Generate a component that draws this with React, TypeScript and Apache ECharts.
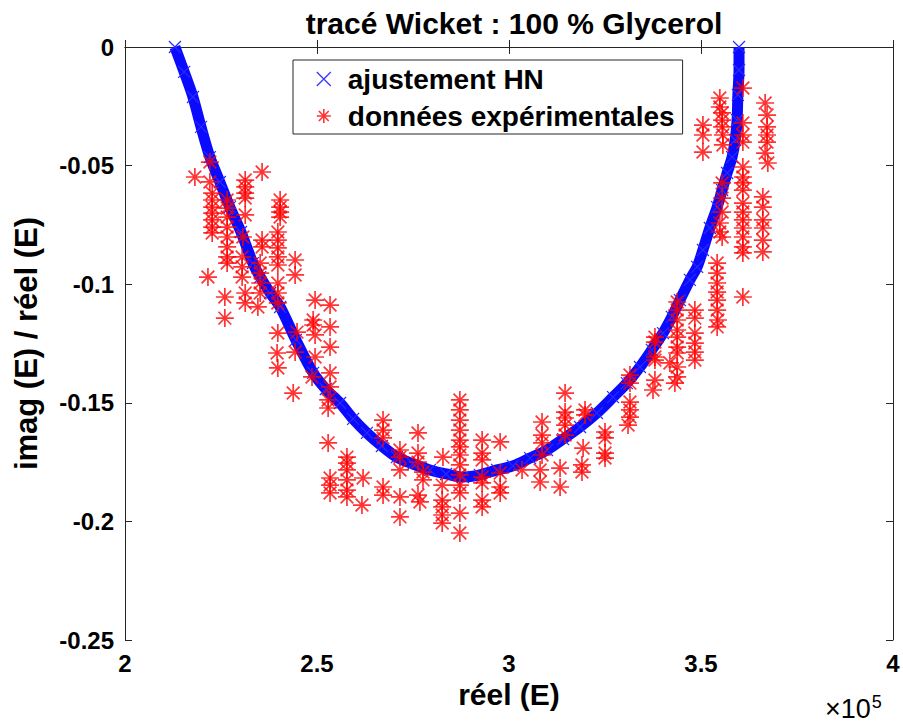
import React, { useEffect, useRef } from "react";
import * as echarts from "echarts";

// réel(E) in units of 1e5, imag(E)/réel(E)
const xTicks = [2, 2.5, 3, 3.5, 4];
const yTicks = [-0.25, -0.2, -0.15, -0.1, -0.05, 0];

const ajustementHN: [number, number][] = [
  [2.13, 0], [2.154, -0.0105], [2.177, -0.0211], [2.198, -0.0337], [2.221, -0.0464],
  [2.247, -0.0569], [2.273, -0.0675], [2.302, -0.078], [2.333, -0.0911], [2.352, -0.097],
  [2.378, -0.1037], [2.404, -0.1096], [2.445, -0.1235], [2.49, -0.1374], [2.523, -0.1442],
  [2.56, -0.1501], [2.594, -0.1568], [2.63, -0.1627], [2.669, -0.1682], [2.708, -0.1729],
  [2.75, -0.1758], [2.794, -0.1783], [2.836, -0.18], [2.88, -0.1813], [2.924, -0.1804],
  [2.969, -0.1783], [3.01, -0.1766], [3.055, -0.1733], [3.099, -0.1699], [3.141, -0.1653],
  [3.185, -0.1602], [3.229, -0.1543], [3.271, -0.1476], [3.307, -0.1417], [3.341, -0.1349],
  [3.372, -0.1277], [3.401, -0.1206], [3.424, -0.1138], [3.445, -0.1067], [3.471, -0.0982],
  [3.49, -0.0927], [3.505, -0.0856], [3.523, -0.0763], [3.542, -0.0675], [3.555, -0.0603],
  [3.568, -0.0531], [3.581, -0.0464], [3.589, -0.0392], [3.594, -0.0308], [3.596, -0.0202],
  [3.599, -0.0097], [3.599, 0],
];

const donneesExperimentales: [number, number][] = [
  [2.182, -0.0548], [2.221, -0.0485], [2.221, -0.0569], [2.357, -0.0527],
  [2.313, -0.0561], [2.313, -0.059], [2.313, -0.0616], [2.313, -0.0637],
  [2.227, -0.0616], [2.227, -0.0645], [2.227, -0.0675], [2.227, -0.07], [2.227, -0.0729], [2.227, -0.0759], [2.227, -0.0784],
  [2.266, -0.0645], [2.266, -0.0679], [2.266, -0.0717], [2.266, -0.0759], [2.266, -0.0801], [2.266, -0.0843], [2.266, -0.0885], [2.266, -0.0911],
  [2.404, -0.0645], [2.404, -0.0675], [2.404, -0.0696], [2.404, -0.0717],
  [2.313, -0.0708],
  [2.398, -0.078], [2.398, -0.0814], [2.398, -0.0847], [2.398, -0.0885], [2.398, -0.0919],
  [2.357, -0.0814], [2.357, -0.0843], [2.307, -0.0801],
  [2.443, -0.0898], [2.443, -0.0961], [2.216, -0.097],
  [2.305, -0.0885], [2.305, -0.0927], [2.305, -0.097],
  [2.352, -0.0911], [2.352, -0.0953], [2.352, -0.0995],
  [2.26, -0.1054], [2.26, -0.1143], [2.313, -0.1037], [2.313, -0.1079],
  [2.398, -0.0995], [2.398, -0.1037], [2.352, -0.1037], [2.346, -0.1096], [2.398, -0.1079],
  [2.495, -0.1067], [2.534, -0.1088], [2.49, -0.1151], [2.49, -0.1172], [2.534, -0.118],
  [2.398, -0.1206], [2.448, -0.1202], [2.495, -0.1214], [2.534, -0.1265],
  [2.396, -0.129], [2.398, -0.1353], [2.443, -0.1286], [2.495, -0.1307], [2.487, -0.1391],
  [2.534, -0.1374], [2.534, -0.1433], [2.529, -0.1488], [2.529, -0.1522], [2.438, -0.1459],
  [2.672, -0.1573], [2.672, -0.1615], [2.672, -0.1648], [2.529, -0.1669], [2.763, -0.1627],
  [2.716, -0.1699], [2.716, -0.1729], [2.716, -0.1783], [2.763, -0.1712], [2.763, -0.175],
  [2.828, -0.1729], [2.776, -0.1792], [2.776, -0.1825],
  [2.578, -0.1729], [2.578, -0.1754], [2.578, -0.1783], [2.578, -0.1825], [2.578, -0.1868], [2.578, -0.1897],
  [2.534, -0.1817], [2.534, -0.1847], [2.534, -0.188], [2.62, -0.1817], [2.617, -0.1931],
  [2.672, -0.1855], [2.672, -0.1889], [2.716, -0.1897], [2.716, -0.1981],
  [2.763, -0.1889], [2.768, -0.1918], [2.826, -0.1847],
  [2.826, -0.191], [2.826, -0.1939], [2.826, -0.1973], [2.826, -0.2007],
  [2.872, -0.1488], [2.872, -0.153], [2.872, -0.1573], [2.872, -0.1615], [2.872, -0.1657], [2.872, -0.1686],
  [2.872, -0.172], [2.872, -0.1762], [2.872, -0.1804], [2.872, -0.1847], [2.872, -0.188], [2.872, -0.1965], [2.872, -0.2049],
  [2.93, -0.1657], [2.93, -0.1712], [2.93, -0.1741], [2.93, -0.1813], [2.93, -0.1838], [2.93, -0.191], [2.93, -0.1939],
  [2.977, -0.1665], [2.977, -0.1796], [2.977, -0.1855], [2.977, -0.188], [3.034, -0.1783],
  [3.086, -0.1581], [3.086, -0.1636], [3.086, -0.1669], [3.086, -0.172], [3.081, -0.1783], [3.081, -0.1834],
  [3.146, -0.1459], [3.146, -0.1539], [3.146, -0.1564], [3.146, -0.1594], [3.146, -0.1636],
  [3.133, -0.1775], [3.133, -0.1855], [3.198, -0.153], [3.198, -0.1551],
  [3.193, -0.1691], [3.19, -0.1762], [3.19, -0.1792],
  [3.25, -0.1623], [3.25, -0.1648], [3.25, -0.1712], [3.25, -0.1733],
  [3.315, -0.1383], [3.315, -0.1417], [3.315, -0.1497], [3.315, -0.153], [3.315, -0.156], [3.31, -0.1594],
  [3.38, -0.1223], [3.38, -0.1244], [3.38, -0.1307], [3.38, -0.132], [3.38, -0.1404], [3.375, -0.1446],
  [3.419, -0.1332],
  [3.438, -0.1075], [3.438, -0.1109], [3.438, -0.1151], [3.438, -0.1193], [3.438, -0.1223],
  [3.438, -0.1265], [3.438, -0.129], [3.438, -0.1349], [3.438, -0.1391], [3.432, -0.1417],
  [3.484, -0.1109], [3.484, -0.1143], [3.484, -0.1206], [3.484, -0.1248], [3.484, -0.1286], [3.484, -0.132],
  [3.542, -0.0911], [3.542, -0.0953], [3.542, -0.0995], [3.542, -0.1033], [3.542, -0.1067],
  [3.542, -0.1109], [3.544, -0.1151], [3.542, -0.118], [3.609, -0.1054],
  [3.549, -0.0742], [3.549, -0.078], [3.555, -0.0801], [3.555, -0.0573], [3.555, -0.0637], [3.555, -0.0696],
  [3.609, -0.0506], [3.609, -0.0548], [3.609, -0.0573], [3.609, -0.0603], [3.609, -0.0658], [3.609, -0.0696],
  [3.609, -0.0729], [3.609, -0.0763], [3.609, -0.0801], [3.609, -0.0843], [3.609, -0.0868],
  [3.661, -0.0632], [3.661, -0.0675], [3.661, -0.0729], [3.661, -0.0763], [3.661, -0.0814], [3.661, -0.0864],
  [3.609, -0.0173],
  [3.549, -0.0215], [3.549, -0.0253], [3.555, -0.0278], [3.555, -0.0308], [3.555, -0.0337], [3.557, -0.0371], [3.557, -0.0413],
  [3.505, -0.0329], [3.505, -0.0371], [3.505, -0.0443],
  [3.609, -0.032], [3.609, -0.0371], [3.609, -0.0401],
  [3.667, -0.0236], [3.672, -0.0287], [3.672, -0.0337], [3.672, -0.0371], [3.672, -0.0401], [3.667, -0.0447], [3.674, -0.0489],
];

const FONT = "'Liberation Sans', Arial, Helvetica, sans-serif";
const INK = "#262626";
const CROSS = "path://M0,0L16,16M0,16L16,0";
const STAR = "path://M8,0L8,16M0,8L16,8M2.34,2.34L13.66,13.66M2.34,13.66L13.66,2.34";

export default function App() {
  const ref = useRef<HTMLDivElement>(null);
  useEffect(() => {
    if (!ref.current) return;
    const chart = echarts.init(ref.current, null, { renderer: "svg" });
    const axisCommon = {
      axisLine: { show: true, lineStyle: { color: INK, width: 1 } },
      axisTick: { show: true, inside: true, length: 7, lineStyle: { color: INK, width: 1 } },
      splitLine: { show: false },
    };
    chart.setOption({
      animation: false,
      backgroundColor: "#ffffff",
      title: {
        text: "tracé Wicket : 100 % Glycerol",
        left: 509,
        top: 3,
        textAlign: "center",
        textStyle: { fontFamily: FONT, fontSize: 30, fontWeight: "bold", color: "#000" },
      },
      legend: {
        orient: "vertical",
        left: 293,
        top: 60,
        padding: [5, 8, 4, 23],
        itemGap: 9,
        itemWidth: 14,
        itemHeight: 14,
        backgroundColor: "#ffffff",
        borderColor: INK,
        borderWidth: 1,
        borderRadius: 0,
        selectedMode: false,
        textStyle: {
          fontFamily: FONT,
          fontSize: 28,
          fontWeight: "bold",
          color: "#000",
          padding: [0, 0, 0, 12],
        },
        data: [
          {
            name: "ajustement HN",
            icon: CROSS,
            itemStyle: { color: "rgba(0,0,0,0)", borderColor: "#3a3aff", borderWidth: 1.3 },
          },
          {
            name: "données expérimentales",
            icon: STAR,
            itemStyle: { color: "rgba(0,0,0,0)", borderColor: "#ff0000", borderWidth: 1.6 },
          },
        ],
      },
      grid: { left: 125, right: 10, top: 47, bottom: 86, containLabel: false },
      xAxis: [
        {
          ...axisCommon,
          type: "value",
          position: "bottom",
          min: xTicks[0],
          max: xTicks[xTicks.length - 1],
          interval: 0.5,
          name: "réel (E)",
          nameLocation: "middle",
          nameGap: 26,
          nameTextStyle: { fontFamily: FONT, fontSize: 30, fontWeight: "bold", color: "#000" },
          axisLabel: { margin: 11, fontFamily: FONT, fontSize: 24, fontWeight: "bold", color: "#000" },
        },
        {
          ...axisCommon,
          type: "value",
          position: "top",
          min: xTicks[0],
          max: xTicks[xTicks.length - 1],
          interval: 0.5,
          axisLabel: { show: false },
        },
      ],
      yAxis: [
        {
          ...axisCommon,
          type: "value",
          position: "left",
          min: yTicks[0],
          max: yTicks[yTicks.length - 1],
          interval: 0.05,
          name: "imag (E) / réel (E)",
          nameLocation: "middle",
          nameRotate: 90,
          nameGap: 83,
          nameTextStyle: { fontFamily: FONT, fontSize: 31, fontWeight: "bold", color: "#000" },
          axisLabel: { margin: 11, fontFamily: FONT, fontSize: 24, fontWeight: "bold", color: "#000" },
        },
        {
          ...axisCommon,
          type: "value",
          position: "right",
          min: yTicks[0],
          max: yTicks[yTicks.length - 1],
          interval: 0.05,
          axisLabel: { show: false },
        },
      ],
      graphic: [
        {
          type: "text",
          left: 825,
          top: 693,
          style: {
            text: "×10{sup|5}",
            fontFamily: FONT,
            fontSize: 27,
            fill: "#000",
            rich: { sup: { fontSize: 18, verticalAlign: "top", padding: [0, 0, 14, 1], fontFamily: FONT } },
          },
        },
      ],
      series: [
        {
          name: "ajustement HN",
          type: "line",
          data: ajustementHN,
          smooth: 0.3,
          z: 2,
          lineStyle: { color: "#0a0aff", width: 11 },
          symbol: CROSS,
          symbolSize: 12,
          showSymbol: true,
          itemStyle: { color: "rgba(0,0,0,0)", borderColor: "#2a2aff", borderWidth: 1.2 },
          emphasis: { disabled: true },
          clip: false,
        },
        {
          name: "données expérimentales",
          type: "scatter",
          data: donneesExperimentales,
          symbol: STAR,
          symbolSize: 18,
          z: 3,
          itemStyle: { color: "rgba(0,0,0,0)", borderColor: "#ff0000", borderWidth: 1.7 },
          emphasis: { disabled: true },
        },
      ],
    });
    return () => chart.dispose();
  }, []);
  return (
    <div
      ref={ref}
      style={{ position: "fixed", left: 0, top: 0, width: 903, height: 726, background: "#fff" }}
    />
  );
}
